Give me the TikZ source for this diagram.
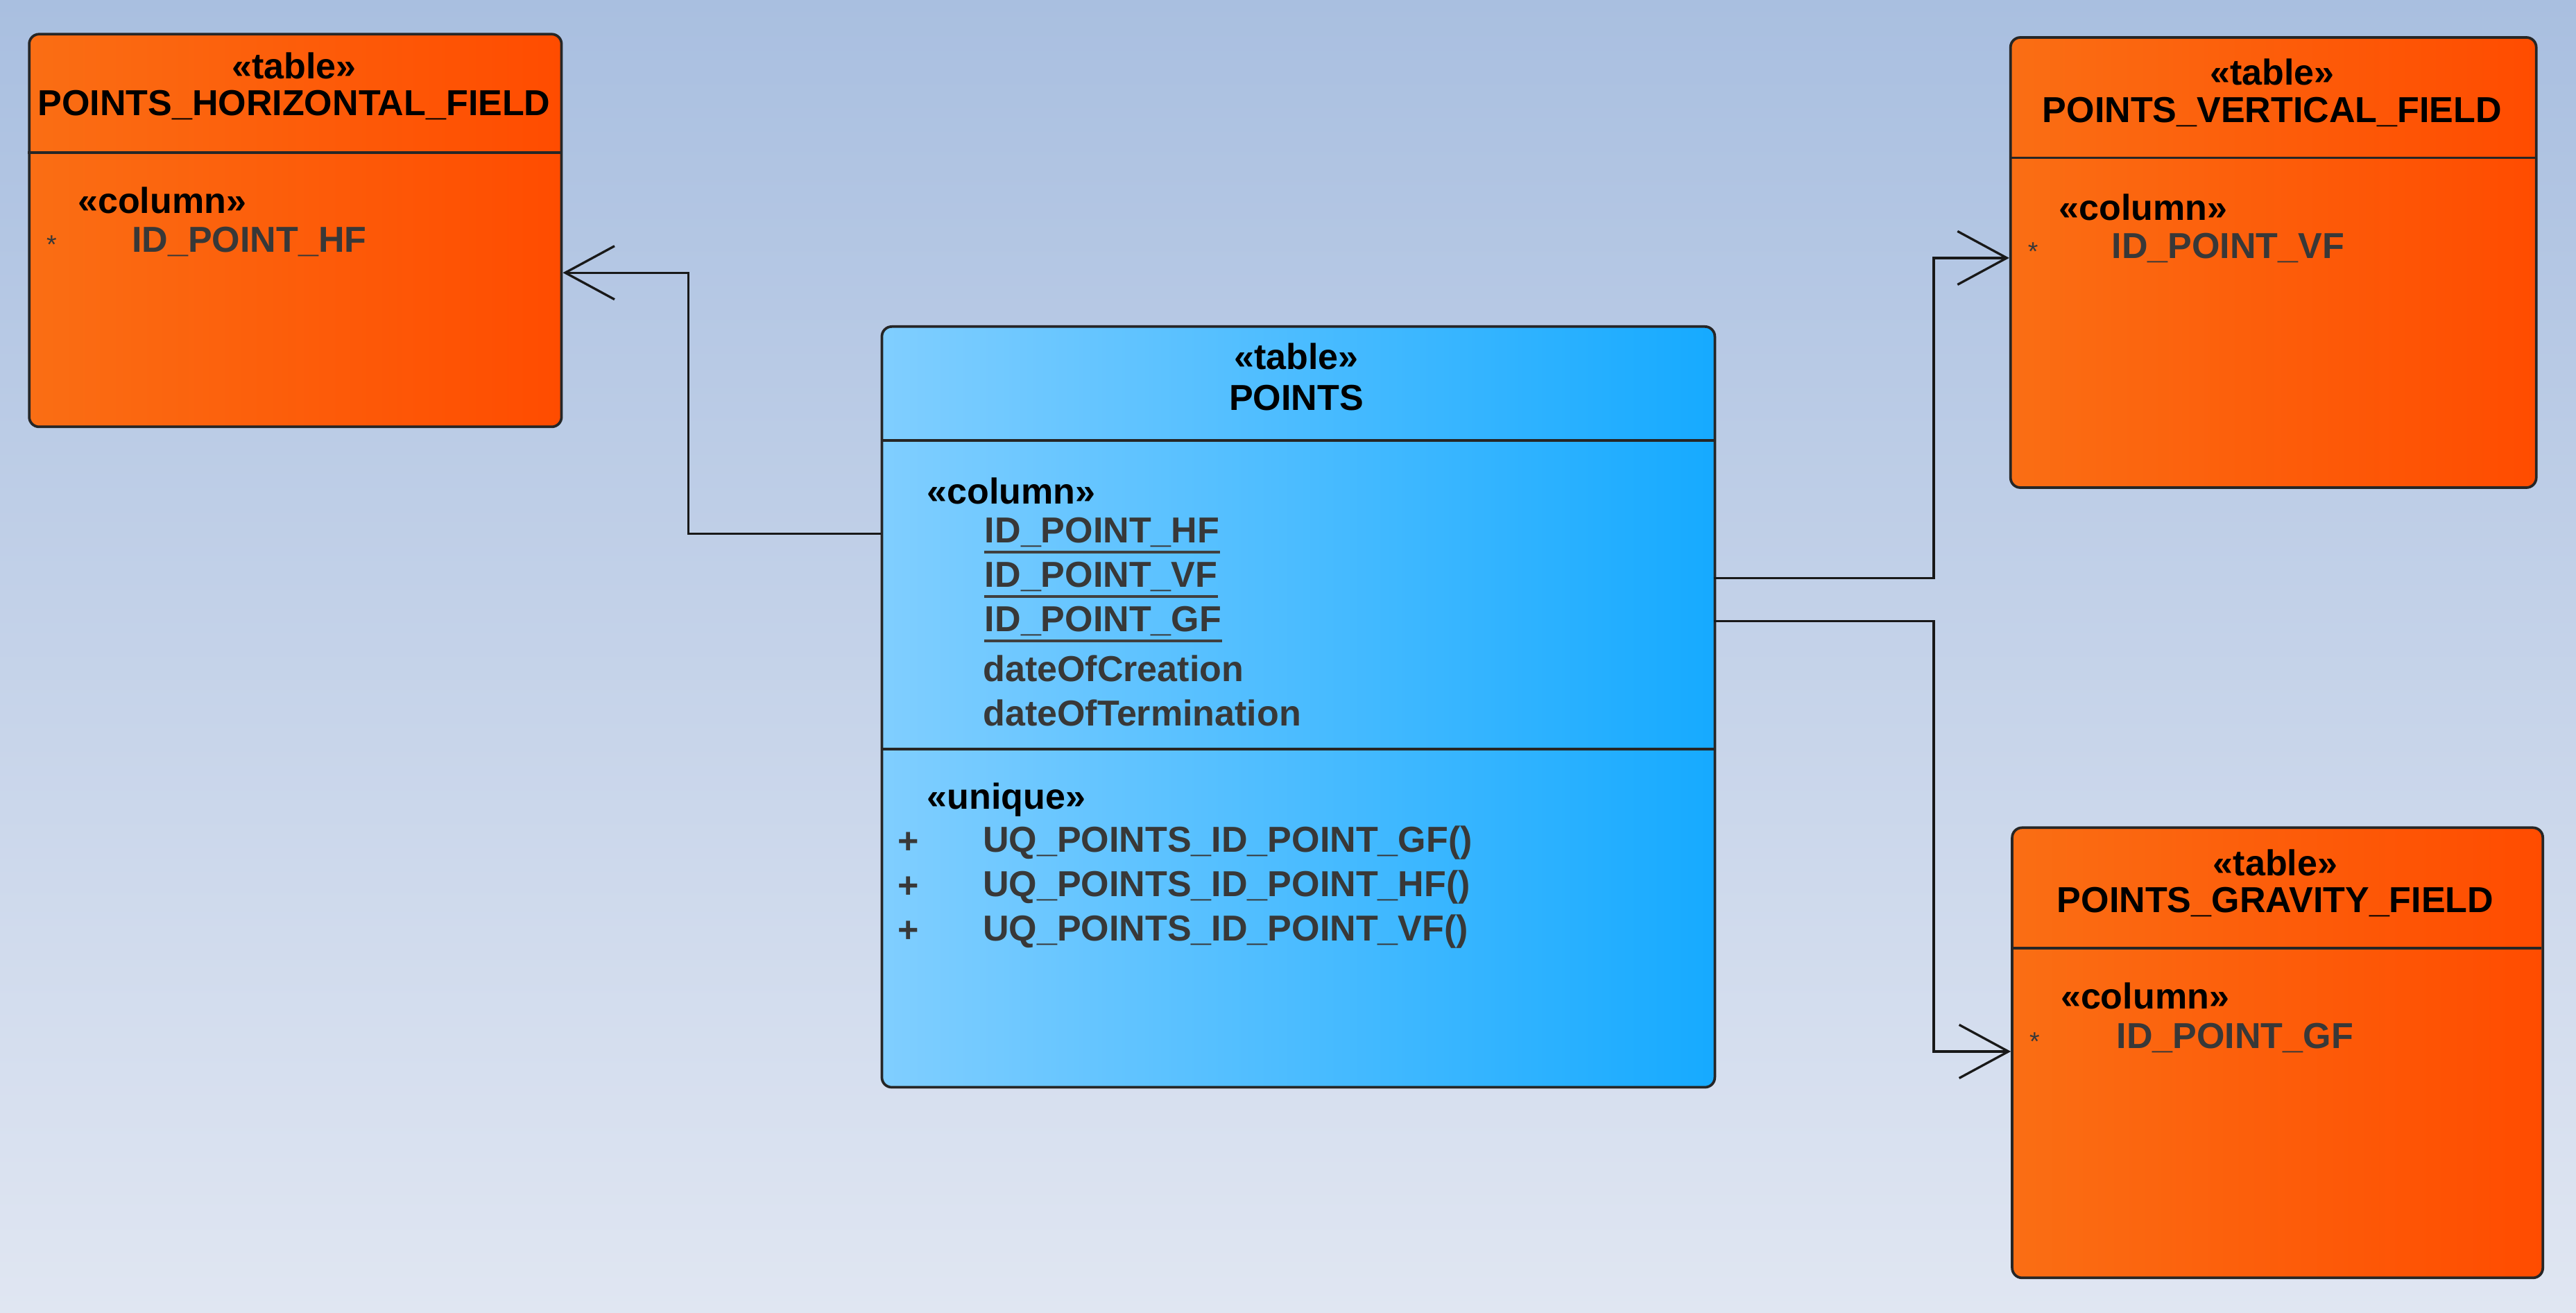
\documentclass[tikz,border=0pt]{standalone}
\usepackage{fontspec}
\setmainfont{Liberation Sans}
\usetikzlibrary{arrows.meta,calc}
\newcommand{\ul}[1]{\tikz[baseline=(t.base)]{\node[inner sep=0pt](t){#1};\draw[line width=0.9pt,black!75]([yshift=-1.6pt]t.south west)--([yshift=-1.6pt]t.south east);}}
\begin{document}
\begin{tikzpicture}[x=0.2mm,y=-0.2mm,
  font=\fontsize{12.5}{14}\selectfont\bfseries,
  box/.style={draw=black!85,line width=0.9pt,rounded corners=1.2mm,inner sep=0pt,anchor=north west},
  st/.style={font=\fontsize{12.5}{14}\selectfont\bfseries,inner sep=0pt},
  row/.style={font=\fontsize{12.5}{14}\selectfont\bfseries,text=black!78,inner sep=0pt,anchor=west},
  div/.style={line width=0.9pt,black!85},
  conn/.style={line width=0.8pt,black!90,-{Straight Barb[length=6mm,width=6.5mm]}}]
\useasboundingbox[top color={rgb,255:red,169;green,191;blue,224},bottom color={rgb,255:red,224;green,230;blue,242}] (0,0) rectangle (1568,799);
\tikzset{orfill/.style={left color={rgb,255:red,250;green,110;blue,20},right color={rgb,255:red,255;green,76;blue,0}}}
% HF
\node[box,minimum width=324*0.2mm,minimum height=239*0.2mm,orfill] (hf) at (17,20) {};
\draw[div] (17,93) -- (341,93);
\node[st] (hft) at (179,40) {«table»};
\node[st] (hfn) at (179,64) {POINTS\_HORIZONTAL\_FIELD};
\node[st,anchor=west] (hfc) at (47,122) {«column»};
\node[row,font=\fontsize{9}{10}\selectfont] (hfs) at (28,149) {*};
\node[row] (hfr) at (80,147) {ID\_POINT\_HF};
% VF
\node[box,minimum width=320*0.2mm,minimum height=274*0.2mm,orfill] (vf) at (1223,22) {};
\draw[div] (1223,96) -- (1543,96);
\node[st] (vft) at (1383,44) {«table»};
\node[st] (vfn) at (1383,68) {POINTS\_VERTICAL\_FIELD};
\node[st,anchor=west] (vfc) at (1253,126) {«column»};
\node[row,font=\fontsize{9}{10}\selectfont] (vfs) at (1234,153) {*};
\node[row] (vfr) at (1285,151) {ID\_POINT\_VF};
% GF
\node[box,minimum width=323*0.2mm,minimum height=274*0.2mm,orfill] (gf) at (1224,503) {};
\draw[div] (1224,577) -- (1547,577);
\node[st] (gft) at (1385,525) {«table»};
\node[st] (gfn) at (1385,549) {POINTS\_GRAVITY\_FIELD};
\node[st,anchor=west] (gfc) at (1254,606) {«column»};
\node[row,font=\fontsize{9}{10}\selectfont] (gfs) at (1235,634) {*};
\node[row] (gfr) at (1288,632) {ID\_POINT\_GF};
% POINTS
\node[box,minimum width=507*0.2mm,minimum height=463*0.2mm,left color={rgb,255:red,128;green,206;blue,255},right color={rgb,255:red,22;green,170;blue,255}] (pts) at (536,198) {};
\draw[div] (536,268) -- (1043,268);
\draw[div] (536,456) -- (1043,456);
\node[st] (ptt) at (789,217) {«table»};
\node[st] (ptn) at (789,242) {POINTS};
\node[st,anchor=west] (ptc) at (564,299) {«column»};
\node[row] (r1) at (598,326) {\ul{ID\_POINT\_HF}};
\node[row] (r2) at (598,353) {\ul{ID\_POINT\_VF}};
\node[row] (r3) at (598,380) {\ul{ID\_POINT\_GF}};
\node[row] (r4) at (598,407) {dateOfCreation};
\node[row] (r5) at (598,434) {dateOfTermination};
\node[st,anchor=west] (ptu) at (564,487) {«unique»};
\foreach \y/\t [count=\i] in {513/GF,540/HF,567/VF}{
  \node[row] (p\i) at (546,\y) {+};
  \node[row] (u\i) at (598,\y) {UQ\_POINTS\_ID\_POINT\_\t()};
}
% connectors
\coordinate (a1) at (536,325);
\coordinate (a2) at (1043,352);
\coordinate (a3) at (1043,378);
\draw[conn] (a1) -- (419,325) -- (419,166) -- (hf.east |- 0,166);
\draw[conn] (a2) -- (1177,352) -- (1177,157) -- (vf.west |- 0,157);
\draw[conn] (a3) -- (1177,378) -- (1177,640) -- (gf.west |- 0,640);
\end{tikzpicture}
\end{document}
